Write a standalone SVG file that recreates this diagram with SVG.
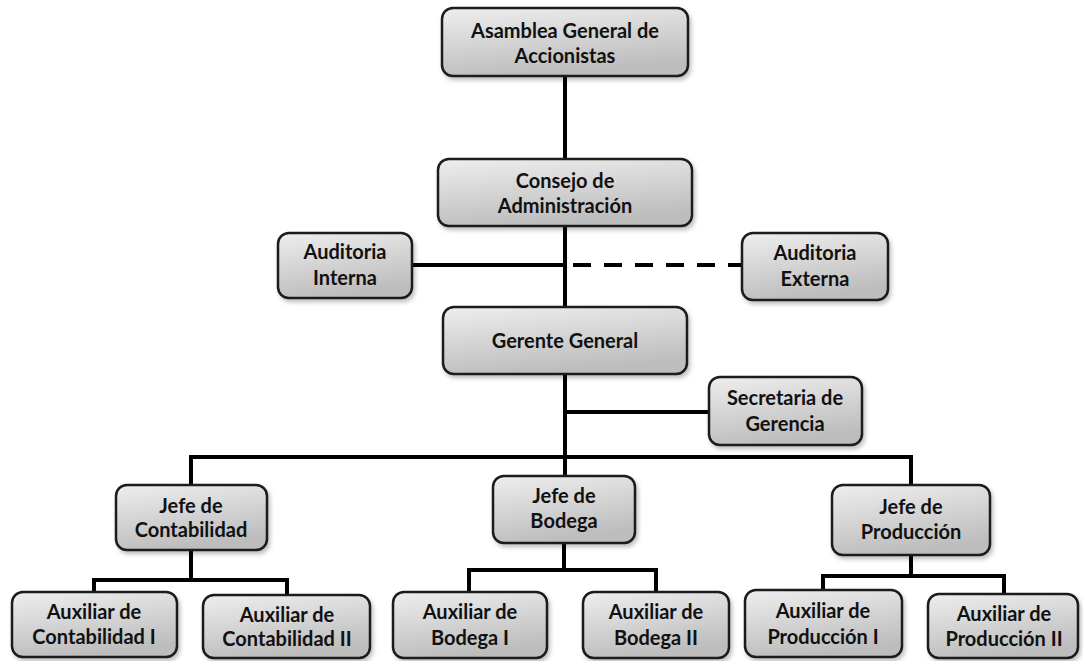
<svg xmlns="http://www.w3.org/2000/svg" width="1083" height="661" viewBox="0 0 1083 661">
<defs>
<linearGradient id="g" x1="0" y1="0" x2="0.3" y2="1">
<stop offset="0" stop-color="#eeeeee"/>
<stop offset="1" stop-color="#bdbdbd"/>
</linearGradient>
<filter id="sh" x="-10%" y="-10%" width="130%" height="140%">
<feDropShadow dx="2" dy="3" stdDeviation="2" flood-color="#000" flood-opacity="0.25"/>
</filter>
<style>
.box{fill:url(#g);stroke:#1a1a1a;stroke-width:2.5;filter:url(#sh)}
text{font-family:Lato,"Open Sans","Liberation Sans",sans-serif;font-weight:bold;font-size:20px;fill:#111;text-anchor:middle}
.c{stroke:#000;stroke-width:4;fill:none;stroke-linecap:square}
.d{stroke:#000;stroke-width:4;fill:none;stroke-dasharray:18 13}
</style>
</defs>
<rect width="1083" height="661" fill="#fff"/>
<g id="connectors">
<path class="c" d="M565 76V159M565 226V307M412 265H565M565 374V457M565 412H709M191 457H911M191 457V485M565 457V476M911 457V485"/>
<path class="d" d="M573 265H742"/>
<path class="c" d="M191 550V580M94 580H287M94 580V592M287 580V595"/>
<path class="c" d="M564 543V570M469 570H656M469 570V592M656 570V592"/>
<path class="c" d="M911 555V576M823 576H1004M823 576V590M1004 576V594"/>
</g>
<g id="asamblea"><rect class="box" x="442" y="8" width="246" height="68" rx="11"/><text x="565" y="38">Asamblea General de</text><text x="565" y="63">Accionistas</text></g>
<g id="consejo"><rect class="box" x="438" y="159" width="254" height="67" rx="11"/><text x="565" y="188">Consejo de</text><text x="565" y="213">Administración</text></g>
<g id="aud-interna"><rect class="box" x="278" y="233" width="134" height="65" rx="11"/><text x="345" y="259">Auditoria</text><text x="345" y="285">Interna</text></g>
<g id="aud-externa"><rect class="box" x="742" y="233" width="146" height="67" rx="11"/><text x="815" y="260">Auditoria</text><text x="815" y="286">Externa</text></g>
<g id="gerente"><rect class="box" x="443" y="307" width="244" height="67" rx="11"/><text x="565" y="348">Gerente General</text></g>
<g id="secretaria"><rect class="box" x="709" y="377" width="153" height="68" rx="11"/><text x="785" y="405">Secretaria de</text><text x="785" y="431">Gerencia</text></g>
<g id="jefe-contabilidad"><rect class="box" x="116" y="485" width="151" height="65" rx="11"/><text x="191" y="513">Jefe de</text><text x="191" y="537">Contabilidad</text></g>
<g id="jefe-bodega"><rect class="box" x="493" y="476" width="142" height="67" rx="11"/><text x="564" y="503">Jefe de</text><text x="564" y="528">Bodega</text></g>
<g id="jefe-produccion"><rect class="box" x="832" y="485" width="158" height="70" rx="11"/><text x="911" y="514">Jefe de</text><text x="911" y="539">Producción</text></g>
<g id="aux-cont-1"><rect class="box" x="12" y="592" width="165" height="65" rx="11"/><text x="94" y="619">Auxiliar de</text><text x="94" y="644">Contabilidad I</text></g>
<g id="aux-cont-2"><rect class="box" x="203" y="595" width="167" height="63" rx="11"/><text x="287" y="622">Auxiliar de</text><text x="287" y="646">Contabilidad II</text></g>
<g id="aux-bod-1"><rect class="box" x="393" y="592" width="154" height="66" rx="11"/><text x="470" y="619">Auxiliar de</text><text x="470" y="645">Bodega I</text></g>
<g id="aux-bod-2"><rect class="box" x="583" y="592" width="146" height="66" rx="11"/><text x="656" y="619">Auxiliar de</text><text x="656" y="645">Bodega II</text></g>
<g id="aux-prod-1"><rect class="box" x="745" y="590" width="157" height="67" rx="11"/><text x="823" y="618">Auxiliar de</text><text x="823" y="644">Producción I</text></g>
<g id="aux-prod-2"><rect class="box" x="928" y="594" width="150" height="64" rx="11"/><text x="1004" y="621">Auxiliar de</text><text x="1004" y="646">Producción II</text></g>
</svg>
